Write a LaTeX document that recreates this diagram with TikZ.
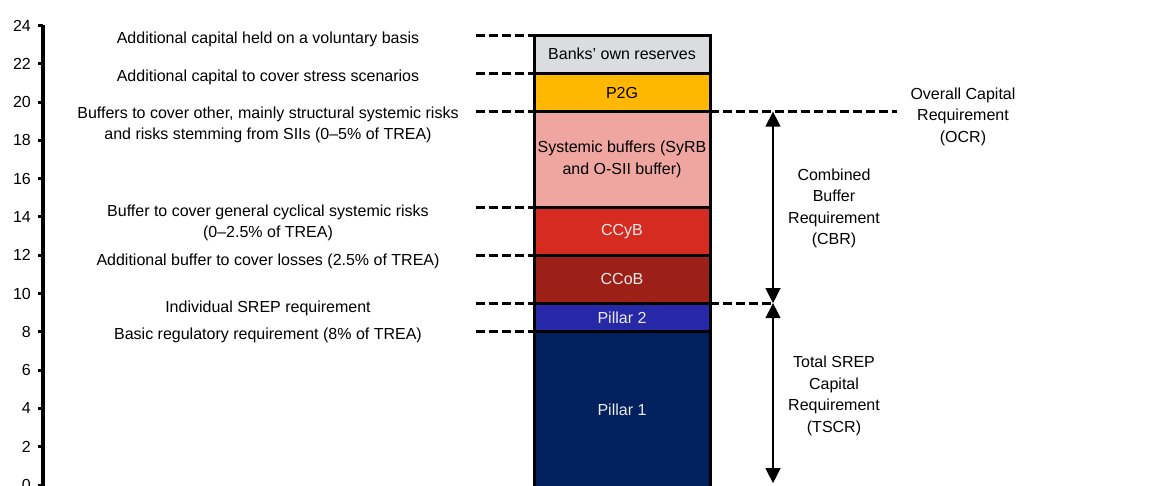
\documentclass[tikz,border=0pt]{standalone}
\usepackage{fontspec}
\setmainfont{Liberation Sans}
\usetikzlibrary{arrows.meta, positioning}
\definecolor{reservegray}{RGB}{219,220,223}
\definecolor{ptwogold}{RGB}{255,183,0}
\definecolor{syspink}{RGB}{240,166,160}
\definecolor{ccybred}{RGB}{214,43,32}
\definecolor{ccobred}{RGB}{156,32,24}
\definecolor{pillartwo}{RGB}{38,40,168}
\definecolor{pillarone}{RGB}{1,32,94}
\newcommand{\chartfont}{\fontsize{16}{21.5}\selectfont}
\tikzset{
  segbox/.style={rectangle, draw=black, line width=3pt, minimum width=176pt, inner sep=0pt, outer sep=0pt, anchor=south west, align=center, font=\chartfont},
  lbl/.style={font=\chartfont, align=center, inner sep=0pt},
  guide/.style={line width=3pt, dash pattern=on 9pt off 4pt},
  dim/.style={{Triangle[width=15pt,length=15pt]}-{Triangle[width=15pt,length=15pt]}, line width=1.3pt},
}
% one block of the bar: name, bottom, top, fill, text colour, text
\newcommand{\barseg}[6]{%
  \node[segbox, fill=#4, text=#5, minimum height={(#3-#2)*19.15pt}] (#1) at (534,#2) {#6};}

\begin{document}
\begin{tikzpicture}[x=1pt, y=19.15pt]
  \useasboundingbox (0,0) rectangle (1155,25.33);
  % Axis
  \draw[line width=4pt] (42.5,-0.2) -- (42.5,24);
  \foreach \v in {0,2,...,24} {
    \draw[line width=3pt] (38,\v) -- (42.5,\v);
    \node[lbl, anchor=east] (tick\v) at (31,\v) {\v};
  }
  % Bar
  \barseg{pone}{-0.15}{8}{pillarone}{white!92!black}{Pillar 1}
  \barseg{ptwo}{8}{9.5}{pillartwo}{white!92!black}{Pillar 2}
  \barseg{ccob}{9.5}{12}{ccobred}{white!92!black}{CCoB}
  \barseg{ccyb}{12}{14.5}{ccybred}{white!92!black}{CCyB}
  \barseg{sys}{14.5}{19.5}{syspink}{black}{Systemic buffers (SyRB\\and O-SII buffer)}
  \barseg{ptwog}{19.5}{21.5}{ptwogold}{black}{P2G}
  \barseg{own}{21.5}{23.5}{reservegray}{black}{Banks’ own reserves}
  % Left guides
  \foreach \n in {own, ptwog, sys, ccyb, ccob, ptwo, pone}
    \draw[guide] ([xshift=-58pt]\n.north west) -- (\n.north west);
  % Left labels
  \node[lbl] (voluntary) at (268,23.3) {Additional capital held on a voluntary basis};
  \node[lbl] (stress) at (268,21.3) {Additional capital to cover stress scenarios};
  \node[lbl] (structural) at (268,18.8) {Buffers to cover other, mainly structural systemic risks\\and risks stemming from SIIs (0–5\% of TREA)};
  \node[lbl] (cyclical) at (268,13.7) {Buffer to cover general cyclical systemic risks\\(0–2.5\% of TREA)};
  \node[lbl] (losses) at (268,11.7) {Additional buffer to cover losses (2.5\% of TREA)};
  \node[lbl] (srep) at (268,9.25) {Individual SREP requirement};
  \node[lbl] (basic) at (268,7.8) {Basic regulatory requirement (8\% of TREA)};
  % Right side
  \coordinate (arrx) at (773,0);
  \coordinate (ocrend) at (897,19.5);
  \coordinate (tscrfoot) at (773,0.1);
  \draw[guide] (sys.north east) -- (ocrend);
  \draw[guide] (ccob.south east) -- (ccob.south east -| arrx);
  \draw[dim] (sys.north east -| arrx) -- (ccob.south east -| arrx);
  \draw[dim] (ptwo.north east -| arrx) -- (tscrfoot);
  \node[lbl] (ocr) at (963,19.25) {Overall Capital\\Requirement\\(OCR)};
  \node[lbl] (cbr) at (834,14.45) {Combined\\Buffer\\Requirement\\(CBR)};
  \node[lbl] (tscr) at (834,4.65) {Total SREP\\Capital\\Requirement\\(TSCR)};
\end{tikzpicture}
\end{document}
